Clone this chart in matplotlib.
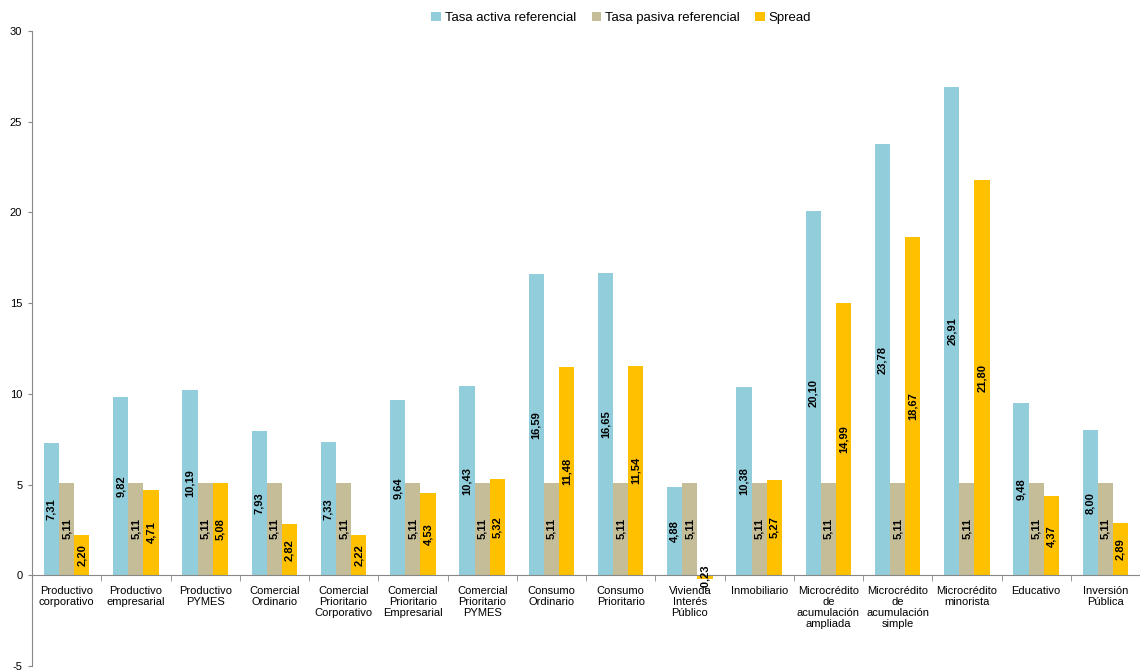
import matplotlib
matplotlib.use("Agg")
import matplotlib.pyplot as plt
import numpy as np
from matplotlib.patches import Patch

plt.rcParams['font.family'] = ['Liberation Sans', 'DejaVu Sans']
plt.rcParams['axes.unicode_minus'] = False

categories = [
    "Productivo\ncorporativo", "Productivo\nempresarial", "Productivo\nPYMES",
    "Comercial\nOrdinario", "Comercial\nPrioritario\nCorporativo",
    "Comercial\nPrioritario\nEmpresarial", "Comercial\nPrioritario\nPYMES",
    "Consumo\nOrdinario", "Consumo\nPrioritario", "Vivienda\nInterés\nPúblico",
    "Inmobiliario", "Microcrédito\nde\nacumulación\nampliada",
    "Microcrédito\nde\nacumulación\nsimple", "Microcrédito\nminorista",
    "Educativo", "Inversión\nPública",
]
tasa_activa = [7.31, 9.82, 10.19, 7.93, 7.33, 9.64, 10.43, 16.59, 16.65, 4.88,
               10.38, 20.10, 23.78, 26.91, 9.48, 8.00]
tasa_pasiva = [5.11] * 16
spread = [2.20, 4.71, 5.08, 2.82, 2.22, 4.53, 5.32, 11.48, 11.54, -0.23,
          5.27, 14.99, 18.67, 21.80, 4.37, 2.89]
series_names = ["Tasa activa referencial", "Tasa pasiva referencial", "Spread"]
colors = ["#92CDDC", "#C4BD97", "#FFC000"]
y_ticks = [-5, 0, 5, 10, 15, 20, 25, 30]

fig = plt.figure(figsize=(11.4, 6.7), dpi=100)
ax = fig.add_axes([32 / 1140, 4 / 670, 1 - 32 / 1140, 635 / 670])

x = np.arange(len(categories))
w = 0.22
for i, (vals, col) in enumerate(zip([tasa_activa, tasa_pasiva, spread], colors)):
    pos = x + (i - 1) * w
    ax.bar(pos, vals, width=w, color=col, edgecolor='none', zorder=2)
    for xp, v in zip(pos, vals):
        ax.text(xp, v / 2, f"{v:.2f}".replace('.', ','), rotation=90,
                ha='center', va='center', fontsize=8, fontweight='bold',
                color='black', zorder=4)

ax.set_xlim(-0.5, len(categories) - 0.5)
ax.set_ylim(-5, 30)
ax.set_yticks(y_ticks)
ax.tick_params(axis='y', labelsize=8, length=3, color='#888888', pad=4)

ax.spines['top'].set_visible(False)
ax.spines['right'].set_visible(False)
ax.spines['left'].set_color('#888888')
ax.spines['bottom'].set_position(('data', 0))
ax.spines['bottom'].set_color('#888888')
ax.spines['bottom'].set_zorder(3)

ax.set_xticks(x)
ax.set_xticklabels(categories, fontsize=8, linespacing=1.1)
ax.tick_params(axis='x', which='major', length=0, pad=8)
ax.set_xticks(np.arange(len(categories) + 1) - 0.5, minor=True)
ax.tick_params(axis='x', which='minor', length=4, color='#888888', direction='out')

handles = [Patch(facecolor=c, edgecolor='none') for c in colors]
fig.legend(handles, series_names, loc='upper center', bbox_to_anchor=(0.545, 1.0),
           ncol=3, frameon=False, fontsize=9.5, handlelength=0.7, handleheight=0.7,
           handletextpad=0.3, columnspacing=1.2)

fig.savefig("out.png", dpi=100)
